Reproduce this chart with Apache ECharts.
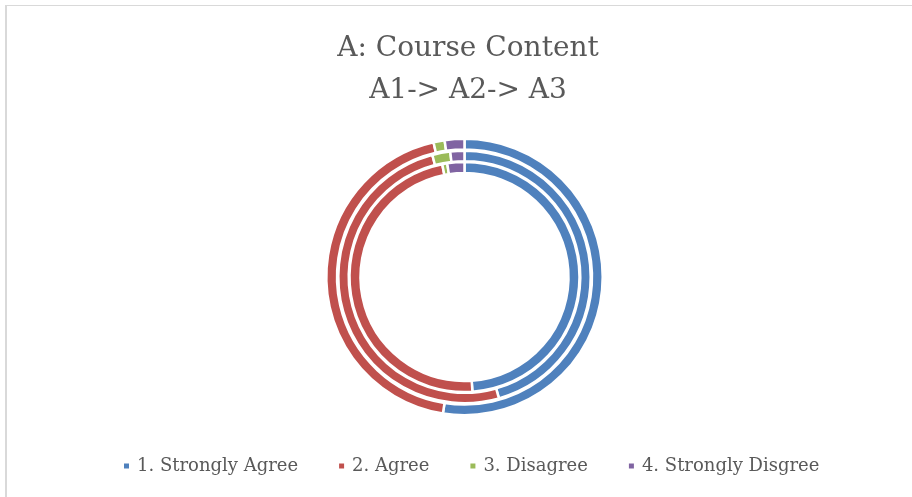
<!DOCTYPE html>
<html>
<head>
<meta charset="utf-8">
<title>A: Course Content</title>
<script src="https://cdn.jsdelivr.net/npm/echarts@6/dist/echarts.min.js"></script>
<style>
  html, body { margin: 0; padding: 0; background: #fff; }
  #chart { width: 912px; height: 497px; }
</style>
</head>
<body>
<div id="chart"></div>
<script>
  // 图例分类
  var categories = ['1. Strongly Agree', '2. Agree', '3. Disagree', '4. Strongly Disgree'];
  // 三个环：外 A1，中 A2，内 A3（百分比，读图估计）
  var ringNames = ['A1', 'A2', 'A3'];
  var a1Values = [52.5, 43.9, 1.3, 2.3];
  var a2Values = [45.6, 50.3, 2.3, 1.8];
  var a3Values = [48.9, 48.0, 0.7, 2.4];
  var colors = ['#4f81bd', '#c0504d', '#9bbb59', '#8064a2'];

  var font = 'DejaVu Serif';
  var textColor = '#595959';

  function ring(name, values, radius) {
    return {
      name: name,
      type: 'pie',
      center: [464.5, 277],
      radius: radius,
      startAngle: 90,
      clockwise: true,
      silent: true,
      label: { show: false },
      labelLine: { show: false },
      itemStyle: { borderColor: '#fff', borderWidth: 2.5 },
      data: values.map(function (v, i) {
        return { name: categories[i], value: v };
      })
    };
  }

  var option = {
    animation: false,
    color: colors,
    backgroundColor: '#fff',
    title: {
      text: 'A: Course Content\nA1-> A2-> A3',
      left: 463,
      textAlign: 'center',
      top: 23,
      textStyle: {
        fontFamily: font,
        fontWeight: 'normal',
        fontSize: 28,
        lineHeight: 42,
        color: textColor
      }
    },
    legend: {
      data: categories,
      left: 117,
      top: 452,
      icon: 'rect',
      itemWidth: 7,
      itemHeight: 7,
      itemGap: 39,
      textStyle: {
        fontFamily: font,
        fontSize: 18,
        color: textColor,
        padding: [0, 0, 0, 2]
      }
    },
    // 图表外框（左、上两条浅灰线）
    graphic: [
      { type: 'rect', shape: { x: 5, y: 5, width: 907, height: 1 }, style: { fill: '#d9d9d9' } },
      { type: 'rect', shape: { x: 5, y: 5, width: 2, height: 492 }, style: { fill: '#d9d9d9' } }
    ],
    series: [
      ring(ringNames[0], a1Values, [127.5, 138.2]),
      ring(ringNames[1], a2Values, [115.8, 126.2]),
      ring(ringNames[2], a3Values, [104, 115])
    ]
  };

  var myChart = echarts.init(document.getElementById('chart'));
  myChart.setOption(option);
</script>
</body>
</html>
